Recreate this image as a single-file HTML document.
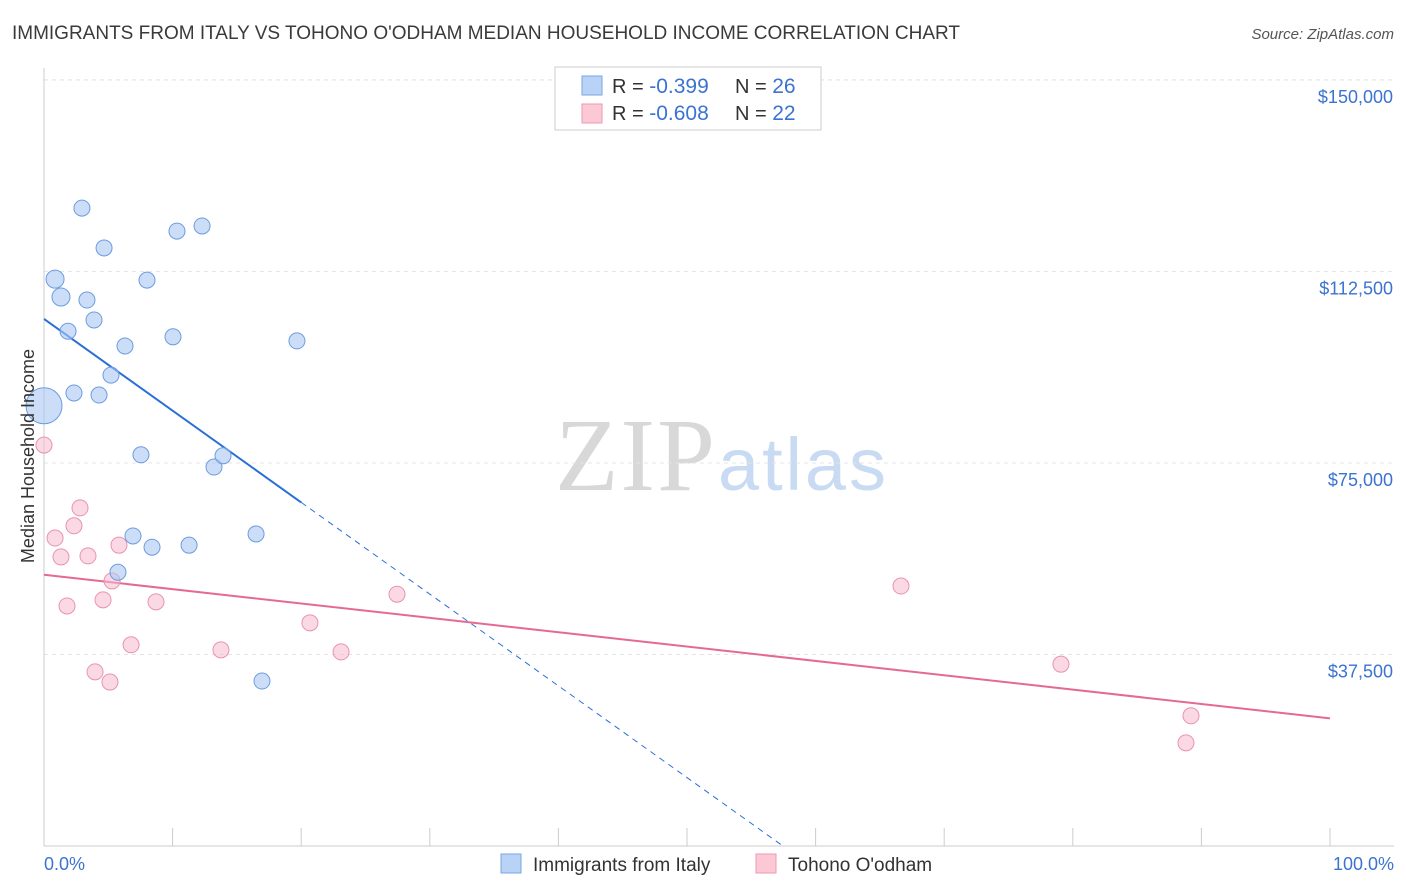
<!DOCTYPE html>
<html><head><meta charset="utf-8"><style>
body{margin:0;background:#fff;font-family:"Liberation Sans",sans-serif}
svg{display:block}
</style></head><body>
<svg id="c" width="1406" height="892">
<text x="12" y="39" font-size="19" fill="#3a3a3a" textLength="948">IMMIGRANTS FROM ITALY VS TOHONO O'ODHAM MEDIAN HOUSEHOLD INCOME CORRELATION CHART</text>
<text x="1394" y="39" font-size="15" fill="#555" font-style="italic" text-anchor="end">Source: ZipAtlas.com</text>
<text x="555" y="490" font-size="104" fill="#d8d8d8" textLength="160" font-family="Liberation Serif,serif">ZIP</text>
<text x="718" y="490" font-size="74" fill="#c8dbf2" textLength="168">atlas</text>
<g id="grid"></g><g id="axes"></g><g id="trends"></g><g id="pts"></g>
<text transform="translate(34,456) rotate(-90)" font-size="18" fill="#333" text-anchor="middle">Median Household Income</text>
<text x="44" y="870" font-size="18" fill="#3b73d1">0.0%</text>
<text x="1394" y="870" font-size="18" fill="#3b73d1" text-anchor="end">100.0%</text>
<g>
<rect x="555" y="67" width="266" height="63" fill="#fff" stroke="#ccc"/>
<rect x="582" y="76" width="20" height="19" fill="#b8d3f5" stroke="#7aa6e6"/>
<rect x="582" y="104" width="20" height="19" fill="#fcc8d6" stroke="#ea9ab2"/>
<text x="612" y="93" font-size="20" fill="#333">R = <tspan fill="#3b73d1" font-size="21">-0.399</tspan><tspan x="735">N = </tspan><tspan fill="#3b73d1" font-size="21">26</tspan></text>
<text x="612" y="120" font-size="20" fill="#333">R = <tspan fill="#3b73d1" font-size="21">-0.608</tspan><tspan x="735">N = </tspan><tspan fill="#3b73d1" font-size="21">22</tspan></text>
</g>
<g>
<rect x="501" y="854" width="20" height="19" fill="#b8d3f5" stroke="#7aa6e6"/>
<text x="533" y="871" font-size="19" fill="#333">Immigrants from Italy</text>
<rect x="756" y="854" width="20" height="19" fill="#fcc8d6" stroke="#ea9ab2"/>
<text x="788" y="871" font-size="19" fill="#333">Tohono O'odham</text>
</g>
</svg>
<script>
const yTicks=[37500,75000,112500,150000];
const yTickLabels=["$37,500","$75,000","$112,500","$150,000"];
const xTicks=[0,10,20,30,40,50,60,70,80,90,100];
const italyX=[2.95,4.67,10.34,12.29,0.86,1.32,3.34,8.01,3.89,1.87,6.3,10.03,19.67,5.21,2.33,4.28,0,7.54,13.22,13.92,6.92,8.4,11.28,16.49,5.75,16.95];
const italyY=[124900,117100,120400,121400,111000,107500,106900,110800,103000,100800,97900,99700,98900,92200,88700,88300,86200,76600,74200,76400,60700,58500,58900,61100,53600,32300];
const italyR=[8,8,8,8,9,9,8,8,8,8,8,8,8,8,8,8,18,8,8,8,8,8,8,8,8,8];
const tohonoX=[0,0.86,2.8,2.33,1.32,3.42,5.83,5.29,1.79,4.59,8.71,6.77,3.97,5.13,13.76,20.68,23.1,27.45,66.64,79.08,89.19,88.8];
const tohonoY=[78500,60300,66200,62700,56600,56800,58900,51900,47000,48200,47800,39400,34100,32100,38400,43700,38000,49300,50900,35600,25500,20200];
const italyTrend=[103200,-76400];
const italyTrendSolidEnd=20;
const tohonoTrend=[53100,25000];
const ns="http://www.w3.org/2000/svg";
const X=v=>44+v*12.86, Y=v=>846-v/195.8;
function mk(p,t,a){const e=document.createElementNS(ns,t);for(const k in a)e.setAttribute(k,a[k]);document.getElementById(p).appendChild(e);return e;}
yTicks.forEach((t,i)=>{
 const l=mk('grid','line',{x1:44,x2:1394,y1:Y(t),y2:Y(t),stroke:'#e4e4e4','stroke-dasharray':'4,4'});
 
 
 const tx=mk('grid','text',{x:1393,y:Y(t)+23,'font-size':18,fill:'#3b73d1','text-anchor':'end'});
 tx.textContent=yTickLabels[i];
 
 
});
const tg=mk('grid','line',{x1:44,x2:1394,y1:Y(150000),y2:Y(150000),stroke:'#e4e4e4','stroke-dasharray':'4,4'});


const ya=mk('axes','line',{x1:44,x2:44,y1:68,y2:846,stroke:'#ccc'});


const xa=mk('axes','line',{x1:44,x2:1394,y1:846,y2:846,stroke:'#ccc'});


xTicks.forEach(t=>{const l=mk('axes','line',{x1:X(t),x2:X(t),y1:828,y2:846,stroke:'#ccc'});
 
 });
const iv=x=>italyTrend[0]+(italyTrend[1]-italyTrend[0])*x/100;
const b1=mk('trends','line',{x1:X(0),y1:Y(iv(0)),x2:X(italyTrendSolidEnd),y2:Y(iv(italyTrendSolidEnd)),stroke:'#2a6fd6','stroke-width':2});


const xz=100*italyTrend[0]/(italyTrend[0]-italyTrend[1]);
const b2=mk('trends','line',{x1:X(italyTrendSolidEnd),y1:Y(iv(italyTrendSolidEnd)),x2:X(xz),y2:Y(0),stroke:'#2a6fd6','stroke-width':1,'stroke-dasharray':'6,5'});


const p1=mk('trends','line',{x1:X(0),y1:Y(tohonoTrend[0]),x2:X(100),y2:Y(tohonoTrend[1]),stroke:'#e46a94','stroke-width':2});


tohonoX.forEach((x,i)=>{const c=mk('pts','circle',{cx:X(x),cy:Y(tohonoY[i]),r:8,fill:'rgba(248,185,205,0.55)',stroke:'#e993ae','stroke-width':1});
 
 });
italyX.forEach((x,i)=>{const c=mk('pts','circle',{cx:X(x),cy:Y(italyY[i]),r:italyR[i],fill:'rgba(170,200,242,0.6)',stroke:'#6c9ce0','stroke-width':1});
 
 });
</script>
</body></html>
